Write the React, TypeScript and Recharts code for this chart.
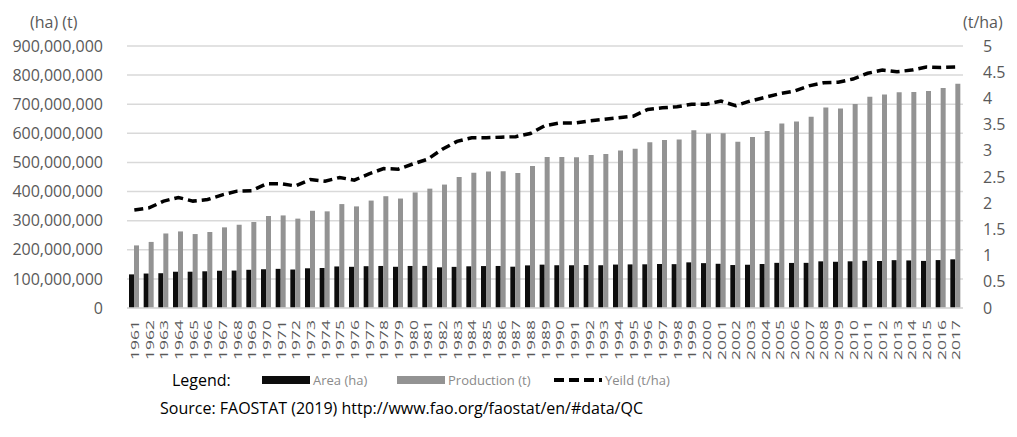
import { ComposedChart, Bar, Line, XAxis, YAxis, CartesianGrid } from "recharts";

const years = [
  "1961", "1962", "1963", "1964", "1965", "1966", "1967", "1968", "1969", "1970",
  "1971", "1972", "1973", "1974", "1975", "1976", "1977", "1978", "1979", "1980",
  "1981", "1982", "1983", "1984", "1985", "1986", "1987", "1988", "1989", "1990",
  "1991", "1992", "1993", "1994", "1995", "1996", "1997", "1998", "1999", "2000",
  "2001", "2002", "2003", "2004", "2005", "2006", "2007", "2008", "2009", "2010",
  "2011", "2012", "2013", "2014", "2015", "2016", "2017",
];

// million ha
const areaHa = [
  115.5, 118.4, 119.5, 124.6, 124.7, 126.1, 128.0, 128.6, 131.3, 133.1,
  134.5, 132.2, 136.4, 137.4, 142.7, 141.5, 143.6, 144.4, 141.6, 144.4,
  144.6, 139.7, 141.3, 143.2, 144.1, 144.4, 141.9, 146.4, 148.9, 146.9,
  146.8, 147.6, 146.9, 149.2, 149.8, 150.1, 151.2, 150.6, 156.8, 154.1,
  151.9, 147.6, 148.6, 151.2, 155.1, 154.8, 155.1, 160.3, 158.8, 160.4,
  162.1, 161.4, 164.3, 163.4, 161.8, 164.6, 167.2,
];

// million t
const productionT = [
  215, 227, 256, 263, 254, 261, 277, 286, 295, 316,
  318, 307, 334, 332, 357, 349, 369, 384, 376, 397,
  410, 424, 450, 465, 469, 470, 464, 488, 519, 519,
  518, 526, 529, 541, 547, 569, 577, 579, 611, 599,
  600, 571, 587, 608, 634, 641, 657, 689, 685, 701,
  726, 733, 741, 742, 745, 756, 770,
];

const yieldTHa = [
  1.87, 1.91, 2.04, 2.11, 2.04, 2.07, 2.16, 2.23, 2.24, 2.37,
  2.37, 2.33, 2.45, 2.42, 2.49, 2.44, 2.56, 2.66, 2.65, 2.75,
  2.84, 3.03, 3.18, 3.25, 3.25, 3.26, 3.27, 3.33, 3.48, 3.53,
  3.53, 3.57, 3.6, 3.63, 3.66, 3.79, 3.82, 3.84, 3.89, 3.89,
  3.95, 3.86, 3.95, 4.02, 4.09, 4.14, 4.24, 4.3, 4.31, 4.37,
  4.48, 4.54, 4.51, 4.54, 4.6, 4.59, 4.6,
];

const leftTicks = [0, 1e8, 2e8, 3e8, 4e8, 5e8, 6e8, 7e8, 8e8, 9e8];
const rightTicks = [0, 0.5, 1, 1.5, 2, 2.5, 3, 3.5, 4, 4.5, 5];

const data = years.map((year, i) => ({
  year,
  area: areaHa[i] * 1e6,
  production: productionT[i] * 1e6,
  yield: yieldTHa[i],
}));

const font = "'Open Sans', sans-serif";
const tickGrey = "#595959";

function YearTick({ x, y, payload }: any) {
  return (
    <text
      x={0}
      y={0}
      transform={`translate(${x},${y + 12}) rotate(-90)`}
      textAnchor="end"
      dominantBaseline="central"
      fontSize={11}
      fontFamily={font}
      fill={tickGrey}
      textLength={40}
      lengthAdjust="spacingAndGlyphs"
    >
      {payload.value}
    </text>
  );
}

function Swatch({ color }: { color: string }) {
  return <span style={{ display: "inline-block", width: 48, height: 8, background: color }} />;
}

export default function App() {
  return (
    <div style={{ position: "absolute", left: 0, top: 0, width: 1017, height: 437, background: "#fff", fontFamily: font }}>
      <ComposedChart
        width={1017}
        height={437}
        data={data}
        margin={{ top: 46, right: 0, left: 0, bottom: 74 }}
        barGap={0}
      >
        <CartesianGrid yAxisId="left" vertical={false} stroke="#d9d9d9" strokeWidth={1.5} />
        <XAxis
          dataKey="year"
          interval={0}
          tickLine={false}
          tickSize={0}
          tickMargin={0}
          axisLine={{ stroke: "#d9d9d9", strokeWidth: 1.5 }}
          height={55}
          tick={<YearTick />}
        />
        <YAxis
          yAxisId="left"
          width={127}
          domain={[0, 9e8]}
          ticks={leftTicks}
          axisLine={false}
          tickLine={false}
          tickSize={0}
          tickMargin={24}
          tick={{ fontSize: 16, fill: tickGrey, fontFamily: font }}
          tickFormatter={(v: number) => v.toLocaleString("en-US")}
        />
        <YAxis
          yAxisId="right"
          orientation="right"
          width={54}
          domain={[0, 5]}
          ticks={rightTicks}
          axisLine={false}
          tickLine={false}
          tickSize={0}
          tickMargin={20}
          tick={{ fontSize: 16, fill: tickGrey, fontFamily: font, textAnchor: "start" }}
        />
        <Bar yAxisId="left" dataKey="area" fill="#0d0d0d" barSize={5} isAnimationActive={false} />
        <Bar yAxisId="left" dataKey="production" fill="#939393" barSize={5} isAnimationActive={false} />
        <Line
          yAxisId="right"
          type="linear"
          dataKey="yield"
          stroke="#000"
          strokeWidth={3.5}
          strokeDasharray="9 5"
          dot={false}
          activeDot={false}
          isAnimationActive={false}
        />
      </ComposedChart>

      <div style={{ position: "absolute", left: 30, top: 11, fontSize: 16, color: tickGrey }}>(ha) (t)</div>
      <div style={{ position: "absolute", left: 963, top: 11, fontSize: 16, color: tickGrey }}>(t/ha)</div>

      <div style={{ position: "absolute", left: 172, top: 369, display: "flex", alignItems: "center", whiteSpace: "nowrap" }}>
        <span style={{ fontSize: 16, color: "#000", width: 90 }}>Legend:</span>
        <Swatch color="#0d0d0d" />
        <span style={{ fontSize: 13, color: "#8a8a8a", marginLeft: 3, width: 84 }}>Area (ha)</span>
        <Swatch color="#939393" />
        <span style={{ fontSize: 13, color: "#8a8a8a", marginLeft: 3, width: 106 }}>Production (t)</span>
        <svg width={48} height={8}>
          <line x1={0} y1={4} x2={48} y2={4} stroke="#000" strokeWidth={4} strokeDasharray="10 5" />
        </svg>
        <span style={{ fontSize: 13, color: "#8a8a8a", marginLeft: 3 }}>Yeild (t/ha)</span>
      </div>
      <div style={{ position: "absolute", left: 160, top: 397, fontSize: 16, color: "#000", whiteSpace: "nowrap" }}>
        Source: FAOSTAT (2019) http://www.fao.org/faostat/en/#data/QC
      </div>
    </div>
  );
}
